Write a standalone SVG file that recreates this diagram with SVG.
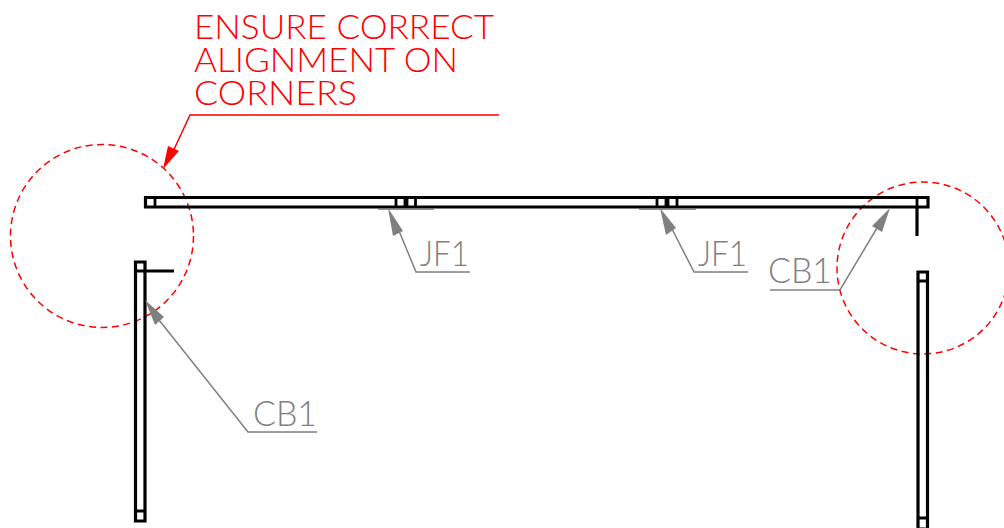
<svg xmlns="http://www.w3.org/2000/svg" width="1004" height="528" viewBox="0 0 1004 528">
<style>
.k{fill:none;stroke:#000;stroke-width:3.2}
.t{fill:none;stroke:#000;stroke-width:2.8}
.g{fill:none;stroke:#808080;stroke-width:1.5}
.u{fill:none;stroke:#707070;stroke-width:1.6}
.ah{fill:#808080;stroke:none}
.r{fill:none;stroke:#ff0000;stroke-width:1.5}
.c{fill:none;stroke:#ff0000;stroke-width:1.5;stroke-dasharray:7 4.500}
text{font-family:Lato,"Open Sans","Liberation Sans",sans-serif;font-weight:300}
.lg{font-size:36px;fill:#808080}
.lr{font-size:33px;fill:#ff0000}
</style>
<rect width="1004" height="528" fill="#fff"/>
<g id="circles">
<circle class="c" cx="102" cy="236" r="91.500"/>
<circle class="c" cx="923" cy="268" r="86"/>
</g>
<g id="beam-top">
<path class="k" d="M145.500 197.500H928V207H145.500Z"/>
<path class="t" d="M155 197.500V207M396 197.500V207M405 197.500V207M407 197.500V207M415.500 197.500V207M657 197.500V207M666 197.500V207M668 197.500V207M677 197.500V207M917 197.500V207"/>
<path class="k" d="M917 207V236"/>
</g>
<g id="post-left">
<path class="k" d="M135.500 262H145V521H135.500Z"/>
<path class="t" d="M135.500 271H145M135.500 511H145M145 271H174"/>
</g>
<g id="post-right">
<path class="k" d="M918 272H927.500V529H918Z"/>
<path class="t" d="M918 281H927.500M918 518H927.500"/>
</g>
<g id="connectors">
<path class="u" d="M378 209H434M639 209H696"/>
<path class="r" d="M499 115H190L170 158"/>
<path d="M163 169L168 146L179 151Z" fill="#f00"/>
<path class="g" d="M470 272H416L397 226"/>
<path class="ah" d="M388 208L403 231L393 236Z"/>
<path class="g" d="M748 272H694L671 227"/>
<path class="ah" d="M660 208L676 228L666 235Z"/>
<path class="g" d="M770 290H840L877 228"/>
<path class="ah" d="M890 208L882 232L872 226Z"/>
<path class="g" d="M317 432H248L159 320"/>
<path class="ah" d="M145 300L164 317L155 325Z"/>
</g>
<g id="labels">
<text class="lr" x="194" y="39" textLength="300" lengthAdjust="spacingAndGlyphs">ENSURE CORRECT</text>
<text class="lr" x="194" y="72" textLength="264" lengthAdjust="spacingAndGlyphs">ALIGNMENT ON</text>
<text class="lr" x="194" y="105" textLength="163" lengthAdjust="spacingAndGlyphs">CORNERS</text>
<text class="lg" x="420" y="266" textLength="49" lengthAdjust="spacingAndGlyphs">JF1</text>
<text class="lg" x="698" y="266" textLength="49" lengthAdjust="spacingAndGlyphs">JF1</text>
<text class="lg" x="768" y="283" textLength="64" lengthAdjust="spacingAndGlyphs">CB1</text>
<text class="lg" x="253" y="426" textLength="64" lengthAdjust="spacingAndGlyphs">CB1</text>
</g>
</svg>
